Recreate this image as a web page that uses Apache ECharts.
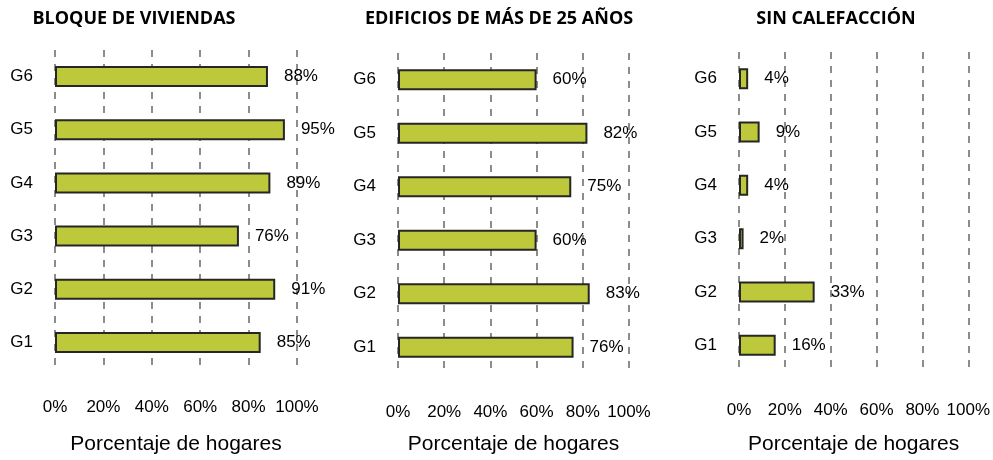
<!DOCTYPE html>
<html>
<head>
<meta charset="utf-8">
<script src="https://cdn.jsdelivr.net/npm/echarts@6/dist/echarts.min.js"></script>
<style>
  html, body { margin: 0; padding: 0; background: #fff; }
  #chart { width: 993px; height: 460px; }
</style>
</head>
<body>
<div id="chart"></div>
<script>
// datos
var grupos = ['G1', 'G2', 'G3', 'G4', 'G5', 'G6'];
var bloqueViviendas = [85, 91, 76, 89, 95, 88];
var edificios25 = [76, 83, 60, 75, 82, 60];
var sinCalefaccion = [16, 33, 2, 4, 9, 4];
var titulos = ['BLOQUE DE VIVIENDAS', 'EDIFICIOS DE MÁS DE 25 AÑOS', 'SIN CALEFACCIÓN'];
var nombreEje = 'Porcentaje de hogares';

var chart = echarts.init(document.getElementById('chart'));

// posiciones de cada panel
var paneles = [
  { left: 55, width: 242, top: 50, height: 322, gap: 65, cx: 129 },
  { left: 398, width: 231, top: 53, height: 325, gap: 60, cx: 494 },
  { left: 739, width: 231, top: 52, height: 326, gap: 62, cx: 831 }
];
var datos = [bloqueViviendas, edificios25, sinCalefaccion];

var fuente = 'Liberation Sans, Arial, sans-serif';

var option = {
  animation: false,
  title: paneles.map(function (p, i) {
    return {
      text: titulos[i],
      left: p.cx,
      top: 5,
      textAlign: 'center',
      textStyle: { fontFamily: 'Open Sans', fontWeight: 'bold', fontSize: 18, color: '#000' }
    };
  }),
  grid: paneles.map(function (p) {
    return { left: p.left, width: p.width, top: p.top, height: p.height, containLabel: false };
  }),
  xAxis: paneles.map(function (p, i) {
    return {
      type: 'value',
      gridIndex: i,
      min: 0,
      max: 100,
      interval: 20,
      name: nombreEje,
      nameLocation: 'middle',
      nameGap: p.gap,
      nameTextStyle: { fontFamily: fuente, fontSize: 21, color: '#000' },
      axisLine: { show: false },
      axisTick: { show: false },
      axisLabel: { formatter: '{value}%', margin: 30, fontFamily: fuente, fontSize: 17, color: '#000' },
      splitLine: { show: true, lineStyle: { color: '#8c8c8c', width: 2, type: [7, 7] } }
    };
  }),
  yAxis: paneles.map(function (p, i) {
    return {
      type: 'category',
      gridIndex: i,
      data: grupos,
      axisLine: { show: false },
      axisTick: { show: false },
      axisLabel: { margin: 22, fontFamily: fuente, fontSize: 17, color: '#000' },
      splitLine: { show: false }
    };
  }),
  series: datos.map(function (d, i) {
    return {
      type: 'bar',
      xAxisIndex: i,
      yAxisIndex: i,
      data: d,
      barWidth: 21,
      itemStyle: { color: '#bdc93a', borderColor: '#262626', borderWidth: 2 },
      label: {
        show: true,
        position: 'right',
        distance: 16,
        formatter: '{c}%',
        fontFamily: fuente,
        fontSize: 17,
        color: '#000'
      }
    };
  })
};

chart.setOption(option);
</script>
</body>
</html>
